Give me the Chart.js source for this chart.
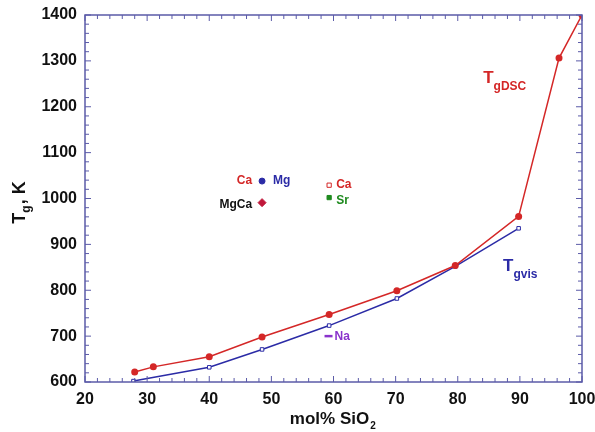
<!DOCTYPE html>
<html>
<head>
<meta charset="utf-8">
<script src="https://cdn.jsdelivr.net/npm/chart.js@4.4.1/dist/chart.umd.min.js"></script>
<style>
  html, body { margin: 0; padding: 0; background: #fff; }
  #wrap { width: 595px; height: 432px; position: relative; }
</style>
</head>
<body>
<div id="wrap"><canvas id="c"></canvas></div>
<script>
// ---- data ----
const dscX = [28, 31, 40, 48.5, 59.3, 70.2, 79.6, 89.8, 96.3, 100];
const dscY = [622, 633, 655, 698, 747, 799, 854, 961, 1306, 1400];
const visX = [27.8, 40, 48.5, 59.3, 70.2, 79.6, 89.8];
const visY = [602, 632, 671, 723, 782, 852, 935];

const mgX = [48.5];   const mgY = [1038];
const mgcaX = [48.5]; const mgcaY = [991];
const caX = [59.3];   const caY = [1029];
const srX = [59.3];   const srY = [1002];
const naX = [59.2];   const naY = [700];

const xTicks = [20, 30, 40, 50, 60, 70, 80, 90, 100];
const yTicks = [600, 700, 800, 900, 1000, 1100, 1200, 1300, 1400];

const RED = '#d42727';
const BLUE = '#2b2ba6';
const AXIS = '#5b5ba8';
const FONT = '"Liberation Sans", Arial, sans-serif';

const pts = (xs, ys) => xs.map((x, i) => ({ x, y: ys[i] }));

// text tags: [text, colour, anchor x, anchor y, pixel dx, pixel dy, align]
const tags = [
  ['Ca',   RED,       48.5, 1038, -10, 0, 'right'],
  ['Mg',   BLUE,      48.5, 1038,  11, 0, 'left'],
  ['MgCa', '#111',    48.5,  991, -10, 2, 'right'],
  ['Ca',   RED,       59.3, 1029,   7, -1, 'left'],
  ['Sr',   '#1e8a1e', 59.3, 1002,   7, 3, 'left'],
  ['Na',   '#8a33cc', 59.2,  700,   6, 1, 'left']
];

// frame, inward ticks, labels with subscripts
const decor = {
  id: 'decor',
  afterDatasetsDraw(chart) {
    const { ctx, chartArea: a, scales: { x, y } } = chart;
    ctx.save();
    ctx.strokeStyle = AXIS;
    ctx.lineWidth = 1.5;
    ctx.strokeRect(a.left, a.top, a.right - a.left, a.bottom - a.top);
    ctx.lineWidth = 1;
    ctx.beginPath();
    for (let v = 20; v <= 100; v += 2) {
      const px = x.getPixelForValue(v);
      const len = v % 10 === 0 ? 6 : 4;
      ctx.moveTo(px, a.bottom); ctx.lineTo(px, a.bottom - len);
      ctx.moveTo(px, a.top); ctx.lineTo(px, a.top + len);
    }
    for (let v = 600; v <= 1400; v += 20) {
      const py = y.getPixelForValue(v);
      const len = v % 100 === 0 ? 6 : 4;
      ctx.moveTo(a.left, py); ctx.lineTo(a.left + len, py);
      ctx.moveTo(a.right, py); ctx.lineTo(a.right - len, py);
    }
    ctx.stroke();

    // point tags
    ctx.font = 'bold 12px ' + FONT;
    ctx.textBaseline = 'middle';
    tags.forEach(([t, col, vx, vy, dx, dy, al]) => {
      ctx.fillStyle = col;
      ctx.textAlign = al;
      ctx.fillText(t, x.getPixelForValue(vx) + dx, y.getPixelForValue(vy) + dy);
    });

    // series names with subscripts
    const sub = (main, s, px, py, col, big, small) => {
      ctx.fillStyle = col;
      ctx.textAlign = 'left';
      ctx.textBaseline = 'alphabetic';
      ctx.font = 'bold ' + big + 'px ' + FONT;
      ctx.fillText(main, px, py);
      const w = ctx.measureText(main).width;
      ctx.font = 'bold ' + small + 'px ' + FONT;
      ctx.fillText(s, px + w, py + 7);
    };
    sub('T', 'gDSC', x.getPixelForValue(84.1), y.getPixelForValue(1252), RED, 17, 12);
    sub('T', 'gvis', x.getPixelForValue(87.3), y.getPixelForValue(842), BLUE, 17, 12);

    // axis titles
    ctx.fillStyle = '#111';
    ctx.font = 'bold 17px ' + FONT;
    ctx.textAlign = 'left';
    ctx.textBaseline = 'alphabetic';
    const t1 = 'mol% SiO';
    const w1 = ctx.measureText(t1).width;
    const cx = (a.left + a.right) / 2;
    const sx = cx - (w1 + 8) / 2;
    ctx.fillText(t1, sx, 424);
    ctx.font = 'bold 10px ' + FONT;
    ctx.fillText('2', sx + w1 + 1, 429);

    ctx.translate(25, 203);
    ctx.rotate(-Math.PI / 2);
    ctx.font = 'bold 18px ' + FONT;
    const wT = ctx.measureText('T').width;
    ctx.font = 'bold 12px ' + FONT;
    const wg = ctx.measureText('g').width;
    ctx.font = 'bold 18px ' + FONT;
    const wK = ctx.measureText(', K').width;
    let ox = -(wT + wg + wK) / 2;
    ctx.fillText('T', ox, 0);
    ctx.font = 'bold 12px ' + FONT;
    ctx.fillText('g', ox + wT, 5);
    ctx.font = 'bold 18px ' + FONT;
    ctx.fillText(', K', ox + wT + wg + 1, 0);
    ctx.restore();
  }
};

new Chart(document.getElementById('c'), {
  type: 'scatter',
  data: {
    datasets: [
      { label: 'TgDSC', data: pts(dscX, dscY), showLine: true, borderColor: RED, borderWidth: 1.5,
        backgroundColor: RED, pointRadius: 3.5, pointBorderWidth: 0, order: 1 },
      { label: 'Tgvis', data: pts(visX, visY), showLine: true, borderColor: BLUE, borderWidth: 1.5,
        backgroundColor: '#fff', pointStyle: 'rect', pointRadius: 2.5, pointBorderColor: BLUE, pointBorderWidth: 1, order: 2 },
      { label: 'Mg', data: pts(mgX, mgY), backgroundColor: BLUE, borderColor: BLUE, pointRadius: 3 },
      { label: 'MgCa', data: pts(mgcaX, mgcaY), backgroundColor: '#c0183a', borderColor: '#c0183a', pointStyle: 'rectRot', pointRadius: 4 },
      { label: 'Ca', data: pts(caX, caY), backgroundColor: '#fff', borderColor: RED, pointStyle: 'rect', pointRadius: 3, pointBorderWidth: 1 },
      { label: 'Sr', data: pts(srX, srY), backgroundColor: '#1e8a1e', borderColor: '#1e8a1e', pointStyle: 'rect', pointRadius: 3 },
      { label: 'Na', data: pts(naX, naY), backgroundColor: '#8a33cc', borderColor: '#8a33cc', pointStyle: 'line', pointRadius: 4, pointBorderWidth: 2.5 }
    ]
  },
  options: {
    responsive: true,
    maintainAspectRatio: false,
    animation: false,
    layout: { padding: { left: 0, right: 13, top: 15, bottom: 0 } },
    plugins: { legend: { display: false }, tooltip: { enabled: false } },
    scales: {
      x: {
        type: 'linear', min: 20, max: 100,
        afterBuildTicks: s => { s.ticks = xTicks.map(v => ({ value: v })); },
        afterFit: s => { s.height = 50; s.paddingLeft = 0; s.paddingRight = 0; },
        grid: { display: false, drawTicks: false },
        border: { display: false },
        ticks: { color: '#111', padding: 8, callback: v => String(v), font: { size: 16, weight: 'bold', family: FONT } }
      },
      y: {
        type: 'linear', min: 600, max: 1400,
        afterBuildTicks: s => { s.ticks = yTicks.map(v => ({ value: v })); },
        afterFit: s => { s.width = 85; s.paddingTop = 0; s.paddingBottom = 0; },
        grid: { display: false, drawTicks: false },
        border: { display: false },
        ticks: { color: '#111', padding: 8, callback: v => String(v), font: { size: 16, weight: 'bold', family: FONT } }
      }
    }
  },
  plugins: [decor]
});
</script>
</body>
</html>
